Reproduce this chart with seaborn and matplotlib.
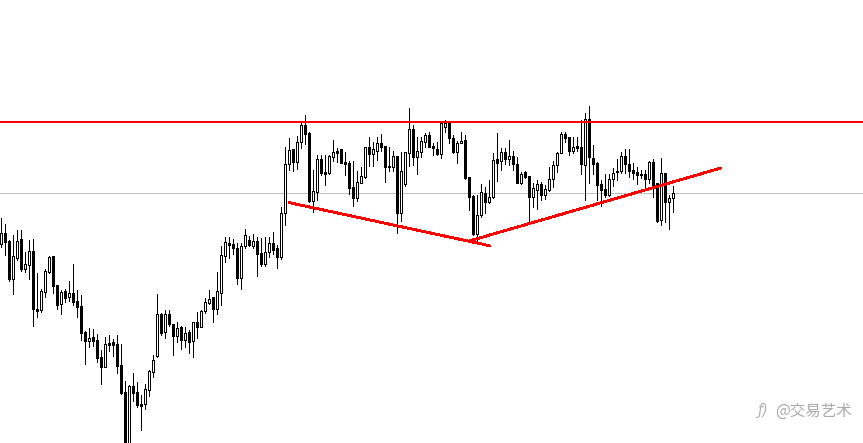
import matplotlib
matplotlib.use("Agg")
import matplotlib.pyplot as plt
import numpy as np
import pandas as pd
import seaborn as sns

opens = [567,600,577,464,527,582,493,504,546,373,371,425,485,532,445,389,426,410,421,397,
         382,304,278,289,280,229,198,271,274,267,205,124,-45,142,124,88,89,131,185,233,
         357,303,357,327,293,318,281,303,278,333,320,366,392,408,374,420,533,570,568,555,
         467,563,579,562,576,540,509,543,570,555,530,660,809,852,815,873,924,900,696,723,
         822,783,780,830,846,852,813,811,738,707,752,770,858,839,848,870,862,802,800,832,
         660,749,840,912,830,845,875,895,861,852,837,920,932,886,843,870,880,768,712,598,
         654,721,693,708,822,816,843,824,831,807,752,783,771,710,731,747,716,731,762,804,
         842,897,888,848,861,858,804,942,825,812,748,733,714,762,787,788,831,807,790,783,
         777,777,764,814,750,639,780,693,705]
closes = [600,575,463,532,578,493,507,546,372,368,427,486,528,443,386,423,407,420,395,380,
          302,278,285,278,227,200,267,266,266,203,122,-40,141,122,85,83,132,187,219,357,
          302,357,327,293,317,281,301,275,333,319,366,393,404,374,426,534,573,566,556,467,
          562,594,566,576,539,509,543,570,551,530,660,807,849,815,873,924,897,697,726,822,
          781,779,831,843,842,812,809,737,706,754,771,858,839,852,870,860,800,799,832,662,
          786,843,912,830,846,876,894,860,855,837,930,932,885,843,870,878,767,710,598,654,
          723,695,708,819,812,843,823,831,809,752,778,769,710,735,747,716,732,762,804,841,
          898,887,848,858,857,807,942,828,809,746,731,716,762,780,785,831,807,788,782,776,
          776,764,813,735,638,780,693,705,720]
highs = [645,628,580,595,610,610,545,580,583,480,433,492,531,532,445,430,432,457,508,430,
         415,306,316,312,298,250,290,294,282,294,268,156,145,180,153,115,148,190,235,418,
         360,370,370,328,334,322,320,310,333,364,370,405,429,410,483,562,589,589,582,570,
         570,612,593,597,589,585,589,589,604,565,679,859,886,853,892,930,955,903,790,835,
         835,835,835,880,856,853,845,818,816,787,800,858,888,874,888,898,863,860,846,832,
         845,843,975,925,888,888,900,903,870,873,935,940,935,895,878,903,895,770,715,715,
         748,738,760,840,900,857,857,880,848,830,785,787,772,750,760,755,745,800,818,845,
         903,903,890,890,890,940,962,982,865,815,760,778,778,795,822,845,852,852,810,800,
         790,790,817,822,750,825,780,715,742]
lows = [560,535,458,418,520,488,484,463,322,350,364,408,481,422,373,358,395,397,386,350,
        280,208,260,262,214,148,198,247,232,181,118,-60,-55,97,80,10,73,112,170,230,
        295,285,322,235,273,254,260,242,230,287,318,360,389,334,358,385,514,527,538,448,
        434,557,563,557,473,503,503,528,538,497,523,626,790,788,794,856,868,694,665,701,
        775,746,778,818,815,811,776,717,683,696,750,767,803,803,820,848,754,788,788,601,
        638,742,803,805,778,828,860,858,835,835,827,903,872,840,812,870,764,670,595,575,
        650,660,692,705,757,790,808,805,790,750,748,765,628,678,674,700,704,728,738,785,
        840,873,835,840,848,778,700,750,778,700,682,708,712,742,760,782,780,770,762,748,
        765,735,750,708,635,625,635,613,665]

resistance_level = 934
middle_level = 720
neckline_left_x = [72, 122.0]
neckline_left_y = [692, 563]
neckline_right_x = [117.2, 179.9]
neckline_right_y = [578, 796]

sns.set_theme(style="white")
plt.rcParams["font.family"] = ["Noto Sans CJK SC", "DejaVu Sans"]

df = pd.DataFrame({"open": opens, "close": closes, "high": highs, "low": lows})
df["candle"] = np.arange(len(df))
df["up"] = df["close"] >= df["open"]
wicks = df.melt(id_vars="candle", value_vars=["high", "low"], value_name="price")

XLIM = (-0.35, 215.4)
YLIM = (-29, 1300)

fig = plt.figure(figsize=(8.63, 4.43), dpi=100, facecolor="white")
ax = fig.add_axes([0, 0, 1, 1])

ax.axhline(middle_level, color="#c0c0c0", lw=0.72, zorder=1, antialiased=False)

sns.lineplot(data=wicks, x="candle", y="price", units="candle", estimator=None,
             color="black", lw=0.72, ax=ax, legend=False, zorder=2,
             antialiased=False, sort=False)

ax.bar(df["candle"], (df["close"] - df["open"]).abs(),
       bottom=df[["open", "close"]].min(axis=1), width=0.5,
       color=np.where(df["up"], "white", "black"), edgecolor="black",
       linewidth=0.72, zorder=3, antialiased=False)

ax.axhline(resistance_level, color="#ff0000", lw=1.44, zorder=4)
sns.lineplot(x=neckline_left_x, y=neckline_left_y, color="#ff0000", lw=1.3, ax=ax,
             zorder=4, sort=False, antialiased=False)
sns.lineplot(x=neckline_right_x, y=neckline_right_y, color="#ff0000", lw=1.3, ax=ax,
             zorder=4, sort=False, antialiased=False)
ax.set_xlim(*XLIM)
ax.set_ylim(*YLIM)
ax.axis("off")

fig.text(757 / 863, 1 - 411 / 443, "ƒ)", color="#b4b4b4", fontsize=10.5,
         va="center", ha="left", style="italic", family="DejaVu Sans")
fig.text(775 / 863, 1 - 411 / 443, "@交易艺术", color="#aaaaaa", fontsize=11.2,
         va="center", ha="left")

fig.savefig("out.png", dpi=100, facecolor="white")
